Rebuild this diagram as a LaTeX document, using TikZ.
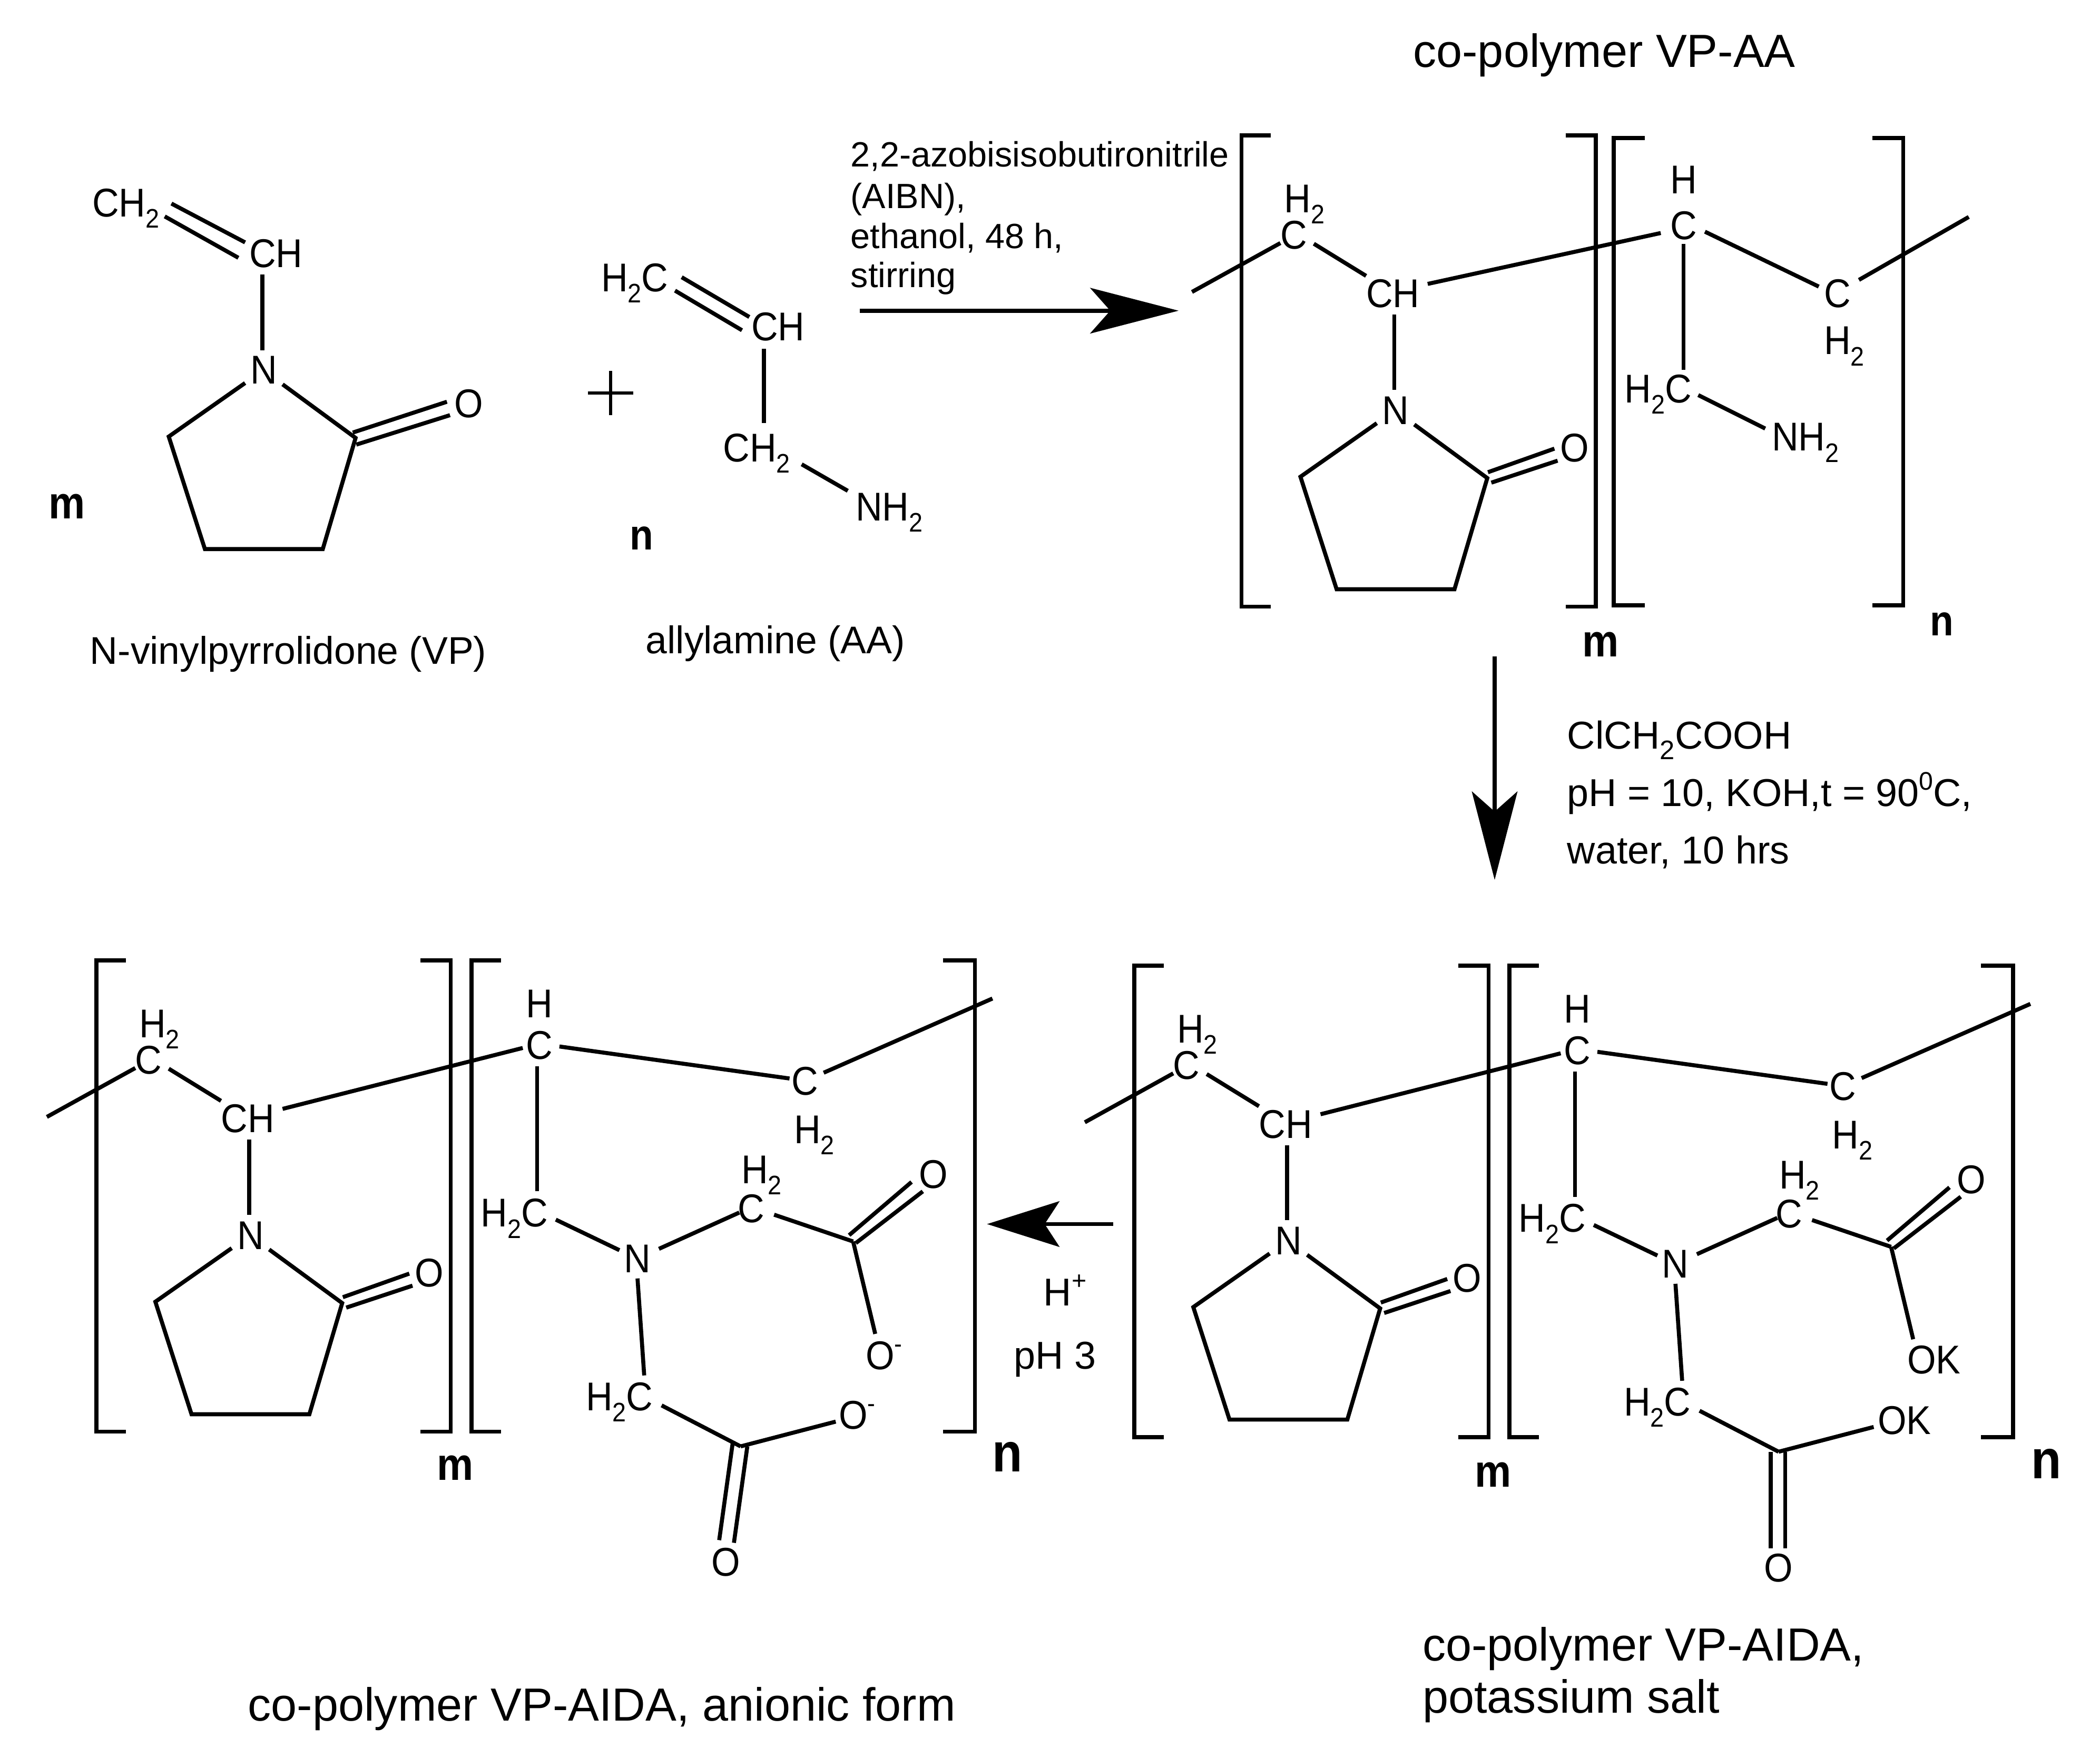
\documentclass[tikz,border=0pt]{standalone}
\usepackage{fontspec}
\setmainfont{Liberation Sans}
\newfontfamily\atomfont[FakeStretch=0.92]{Liberation Sans}
\newfontfamily\idxfont[FakeStretch=0.9]{Liberation Sans Bold}
\usetikzlibrary{arrows.meta}
\newcommand\lowt[1]{\raisebox{-0.28em}{\fontsize{20}{20}\selectfont #1}}
\newcommand\upt[1]{\raisebox{0.42em}{\fontsize{19}{19}\selectfont #1}}
\tikzset{
  bond/.style={line width=3pt,line cap=butt,line join=miter},
  brack/.style={line width=3pt,line cap=butt,line join=miter},
  atomlab/.style={inner sep=0pt,outer sep=0pt,font=\atomfont\fontsize{30}{30}\selectfont,text height=21.4pt,text depth=0pt},
  idxs/.style={inner sep=0pt,font=\idxfont\fontsize{32}{32}\selectfont},
  idxm/.style={inner sep=0pt,font=\idxfont\fontsize{34}{34}\selectfont},
  idxl/.style={inner sep=0pt,font=\idxfont\fontsize{41}{41}\selectfont},
  caplab/.style={inner sep=0pt,anchor=base west,font=\fontsize{34.7}{36}\selectfont},
  namelab/.style={inner sep=0pt,anchor=base west,font=\fontsize{28.8}{30}\selectfont},
  condlab/.style={inner sep=0pt,anchor=base west,font=\fontsize{26.2}{28}\selectfont},
  reagent/.style={inner sep=0pt,anchor=base west,font=\fontsize{29}{30}\selectfont},
  rxn/.style={line width=3pt,-{Stealth[length=66pt,width=34pt,inset=15pt]}},
}
\newcommand\atm[3]{\node[atomlab] (#1) at (#2) {#3};}
\newcommand\bnd[3]{\coordinate (#1s) at (#2); \coordinate (#1e) at (#3); \draw[bond] (#1s) -- (#1e);}
% pyrrolidone ring, origin at N
\newcommand\vpring[5]{%
  \atm{N}{0,0}{N}
  \coordinate (r1) at (-14,10); \coordinate (r2) at (-71,50); \coordinate (r3) at (-44,134);
  \coordinate (r4) at (44,134); \coordinate (r5) at (68.5,51); \coordinate (r6) at (14,11);
  \draw[bond] (r1) -- (r2) -- (r3) -- (r4) -- (r5) -- (r6);
  \bnd{co1}{#1}{#2}
  \bnd{co2}{#3}{#4}
  \atm{O}{#5}{O}
}
% left repeat unit of each co-polymer, origin at N
\newcommand\vpunit{%
  \vpring{69,46.6}{118.6,29}{71.5,54.4}{121,38}{133.6,28}
  \draw[brack] (-93,-205) -- (-115,-205) -- (-115,147) -- (-93,147);
  \draw[brack] (127,-205) -- (149.5,-205) -- (149.5,147) -- (127,147);
  \atm{Ca}{-76,-131}{C}
  \atm{Ha}{-68,-158}{H\lowt{2}}
  \atm{CH}{-2,-87}{CH}
  \bnd{l1}{-152,-88}{-86,-124.5}
  \bnd{l2}{-61,-124}{-22,-100}
  \bnd{l3}{-1,-71}{-1,-15}
}
% right repeat unit with iminodiacetate arm, origin at N of left unit
\newcommand\aidaunit{%
  \atm{Cb}{215.7,-142}{C}
  \atm{Hb}{215.7,-173}{H}
  \atm{Cc}{414,-115}{C}
  \atm{Hc}{421,-79}{H\lowt{2}}
  \bnd{m1}{24,-94}{203.3,-139.5}
  \bnd{m2}{230.7,-140.6}{402.5,-116.7}
  \bnd{m3}{428,-121}{554,-176.4}
  \bnd{v1}{214,-126}{214,-32.4}
  \atm{Cd}{197,-16.6}{H\lowt{2}C}
  \bnd{v2}{228,-11.3}{275.5,11.5}
  \atm{Nb}{289,17.5}{N}
  \bnd{v3}{305,10.5}{365,-16.6}
  \atm{Ce}{374,-20}{C}
  \atm{He}{381.6,-49}{H\lowt{2}}
  \bnd{v4}{391,-15}{450,5}
  \bnd{d1}{447,0.3}{493.6,-39.4}
  \bnd{d2}{452,6.2}{502,-32.4}
  \atm{Oa}{510,-45.4}{O}
  \bnd{v5}{450,5}{466.5,74}
  \bnd{w1}{289,32.6}{294,105}
  \atm{Cf}{275.5,120.4}{H\lowt{2}C}
  \bnd{w2}{307,127.4}{366,158}
  \bnd{w3}{366,158}{437,139.5}
  \draw[brack] (187,-205) -- (165,-205) -- (165,147) -- (187,147);
  \draw[brack] (517,-205) -- (541,-205) -- (541,147) -- (517,147);
}
\begin{document}
\begin{tikzpicture}[x=1pt,y=-1pt]
\fill[white] (0,0) rectangle (1568,1305);
\useasboundingbox (0,0) rectangle (1568,1305);

% --- N-vinylpyrrolidone
\begin{scope}[shift={(197,276)},name prefix=vp-]
  \vpring{66.4,47}{136.7,24}{69,56}{139,34}{153,25}
  \atm{CH}{9,-87}{CH}
  \atm{CHt}{-103,-125}{CH\lowt{2}}
  \bnd{a1}{-69,-124}{-14,-95}
  \bnd{a2}{-74,-114.4}{-19,-83.5}
  \bnd{a3}{-1,-71}{-1,-14.4}
\end{scope}
\node[idxm] (mA) at (50,378) {m};
\node[namelab] (nameVP) at (67,496) {N-vinylpyrrolidone (VP)};

% --- plus
\coordinate (pl) at (439,293.6); \coordinate (pr) at (472.7,293.6);
\coordinate (pt) at (456,277); \coordinate (pb) at (456,310);
\draw[line width=2.4pt] (pl) -- (pr) (pt) -- (pb);

% --- allylamine
\atm{aaCt}{474,207}{H\lowt{2}C}
\atm{aaCH}{581,243.6}{CH}
\atm{aaC}{565,334}{CH\lowt{2}}
\atm{aaN}{664,378}{NH\lowt{2}}
\bnd{b1}{509,207}{559.5,236.7}
\bnd{b2}{504,217}{554,246.6}
\bnd{b3}{570.5,260.5}{570.5,316}
\bnd{b4}{598.6,346.7}{633,366.5}
\node[idxs] (nA) at (479,402) {n};
\node[namelab] (nameAA) at (482,488) {allylamine (AA)};

% --- conditions 1
\node[condlab] (c1) at (635,124.5) {2,2-azobisisobutironitrile};
\node[condlab] (c2) at (635,155.5) {(AIBN),};
\node[condlab] (c3) at (635,185.5) {ethanol, 48 h,};
\node[condlab] (c4) at (635,214.5) {stirring};
\coordinate (ar1s) at (642,232); \coordinate (ar1e) at (880,232);
\draw[rxn] (ar1s) -- (ar1e);

% --- co-polymer VP-AA
\node[caplab] (capAA) at (1055,50) {co-polymer VP-AA};
\begin{scope}[shift={(1042,306)},name prefix=pa-]
  \vpunit
  \atm{Cb}{215,-138}{C}
  \atm{Hb}{215,-172}{H}
  \atm{Cc}{330,-87}{C}
  \atm{Hc}{335,-52}{H\lowt{2}}
  \bnd{m1}{24,-94}{198,-132}
  \bnd{m2}{231,-133}{316,-92}
  \bnd{m3}{346,-97}{428,-144}
  \bnd{v1}{215,-124}{215,-30}
  \atm{Cd}{196,-16}{H\lowt{2}C}
  \bnd{v2}{226,-11}{276,14}
  \atm{Nb}{306,20}{NH\lowt{2}}
  \draw[brack] (186,-203) -- (163,-203) -- (163,146) -- (186,146);
  \draw[brack] (356,-203) -- (379,-203) -- (379,146) -- (356,146);
\end{scope}
\node[idxm] (mB) at (1195,481) {m};
\node[idxs] (nB) at (1450,466) {n};

% --- conditions 2
\coordinate (ar2s) at (1116,490); \coordinate (ar2e) at (1116,657);
\draw[rxn] (ar2s) -- (ar2e);
\node[reagent] (r1) at (1170,559) {ClCH\lowt{2}COOH};
\node[reagent] (r2) at (1170,602) {pH = 10, KOH,t = 90\upt{0}C,};
\node[reagent] (r3) at (1170,645) {water, 10 hrs};

% --- potassium salt
\begin{scope}[shift={(962,926)},name prefix=ps-]
  \vpunit
  \aidaunit
  \atm{Ok}{482,89}{OK}
  \atm{Ol}{460,134.4}{OK}
  \bnd{e1}{360,158}{360,230}
  \bnd{e2}{371,158}{371,230}
  \atm{Om}{366,244.4}{O}
\end{scope}
\node[idxm] (mC) at (1115,1101) {m};
\node[idxl] (nC) at (1528,1093) {n};
\node[caplab] (capK1) at (1062,1240) {co-polymer VP-AIDA,};
\node[caplab] (capK2) at (1062,1279) {potassium salt};

% --- arrow 3
\coordinate (ar3s) at (831,914); \coordinate (ar3e) at (737,914);
\draw[line width=3pt,-{Stealth[length=54pt,width=34pt,inset=11pt]}] (ar3s) -- (ar3e);
\node[reagent] (hp) at (779,975) {H\upt{+}};
\node[reagent] (ph3) at (757,1022) {pH 3};

% --- anionic form
\begin{scope}[shift={(187,922)},name prefix=an-]
  \vpunit
  \aidaunit
  \atm{Ok}{473,90}{O\upt{-}}
  \atm{Ol}{453,134.4}{O\upt{-}}
  \bnd{e1}{360,156}{350,228}
  \bnd{e2}{371,158}{361,230}
  \atm{Om}{355,244}{O}
\end{scope}
\node[idxm] (mD) at (340,1096) {m};
\node[idxl] (nD) at (752,1088) {n};
\node[caplab] (capAn) at (185,1285) {co-polymer VP-AIDA, anionic form};
\end{tikzpicture}
\end{document}
